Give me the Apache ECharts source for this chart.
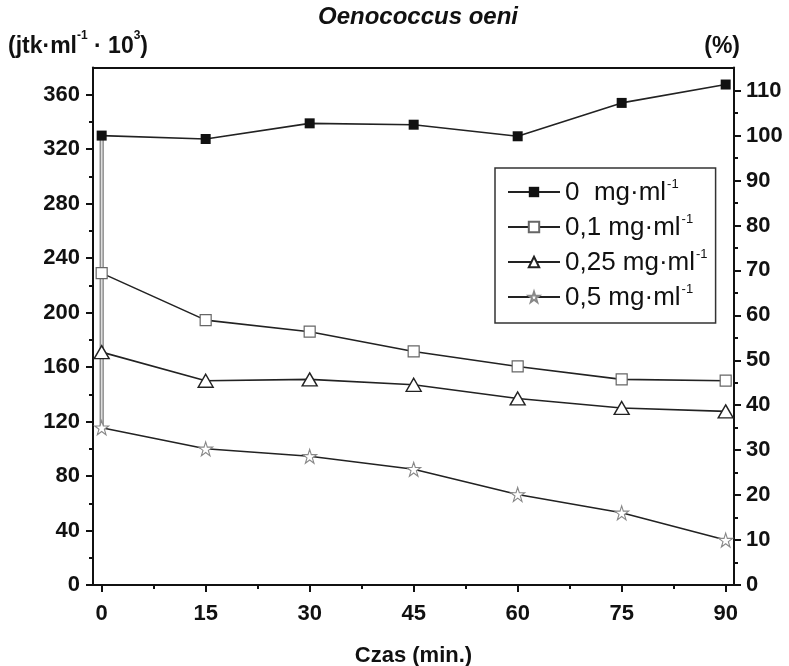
<!DOCTYPE html>
<html>
<head>
<meta charset="utf-8">
<script src="https://cdn.jsdelivr.net/npm/echarts@6/dist/echarts.min.js"></script>
<style>
  html, body { margin: 0; padding: 0; background: #fff; }
  #chart { width: 789px; height: 666px; }
</style>
</head>
<body>
<div id="chart"></div>
<script>
// czas pomiaru (min.)
const times = [0, 15, 30, 45, 60, 75, 90];
// liczba komórek (jtk·ml-1 · 10^3)
const conc0 = [330, 327.5, 339, 338, 329.5, 354, 367.5];
const conc01 = [229, 194.5, 186, 171.5, 160.5, 151, 150];
const conc025 = [171, 150, 151, 147, 137, 130, 127.5];
const conc05 = [115.5, 100, 94.5, 85, 66.5, 53, 33];
// pionowa linia przy t = 0
const connector = [[0, 330], [0, 115.5]];

const seriesNames = ["0  mg·ml", "0,1 mg·ml", "0,25 mg·ml", "0,5 mg·ml"];
const xTicks = [0, 15, 30, 45, 60, 75, 90];
const xMinorTicks = [7.5, 22.5, 37.5, 52.5, 67.5, 82.5];
const leftTicks = [0, 40, 80, 120, 160, 200, 240, 280, 320, 360];
const leftMinorTicks = [20, 60, 100, 140, 180, 220, 260, 300, 340];
const rightTicks = [0, 10, 20, 30, 40, 50, 60, 70, 80, 90, 100, 110];
const rightMinorTicks = [5, 15, 25, 35, 45, 55, 65, 75, 85, 95, 105];

const fontFamily = "Liberation Sans, Arial, sans-serif";
const axisColor = "#111";
const lineColor = "#222";
const starPath = "path://M50,2 L61,36 L97,36 L68,57 L79,92 L50,71 L21,92 L32,57 L3,36 L39,36 Z";

const chart = echarts.init(document.getElementById("chart"));

const labelStyle = {
  color: axisColor,
  fontFamily: fontFamily,
  fontSize: 22,
  fontWeight: "bold",
};

function pairs(values) {
  return times.map((t, i) => [t, values[i]]);
}

function axisBase(extra) {
  return Object.assign(
    {
      type: "value",
      splitLine: { show: false },
      axisLine: { show: true, onZero: false, lineStyle: { color: axisColor, width: 2 } },
    },
    extra
  );
}

// oś tylko z małymi kreskami (bez linii i opisów)
function minorAxis(extra, ticks) {
  return axisBase(
    Object.assign(
      {
        axisLine: { show: false, onZero: false },
        axisTick: {
          show: true,
          length: 4,
          customValues: ticks,
          lineStyle: { color: axisColor, width: 2 },
        },
        axisLabel: { show: false },
      },
      extra
    )
  );
}

const supRich = {
  t: { fontFamily: fontFamily, fontSize: 26, color: "#111", lineHeight: 28, verticalAlign: "bottom" },
  s: { fontFamily: fontFamily, fontSize: 13, color: "#111", lineHeight: 28, verticalAlign: "top", padding: [0, 0, 0, 1] },
};

const titleRich = {
  b: { fontFamily: fontFamily, fontSize: 23, fontWeight: "bold", color: "#111", lineHeight: 28, verticalAlign: "bottom" },
  s: { fontFamily: fontFamily, fontSize: 12, fontWeight: "bold", color: "#111", lineHeight: 28, verticalAlign: "top" },
};

chart.setOption({
  animation: false,
  backgroundColor: "#fff",
  title: [
    {
      text: "Oenococcus oeni",
      left: 413,
      textAlign: "center",
      top: 0,
      textStyle: {
        fontFamily: fontFamily,
        fontSize: 24,
        fontWeight: "bold",
        fontStyle: "italic",
        color: "#111",
      },
    },
    {
      text: "{b|(jtk·ml}{s|-1}{b| · 10}{s|3}{b|)}",
      left: 3,
      top: 25,
      textStyle: { rich: titleRich },
    },
    {
      text: "{b|(%)}",
      right: 44,
      top: 25,
      textStyle: { rich: titleRich },
    },
  ],
  grid: {
    left: 93,
    right: 55,
    top: 67.5,
    bottom: 81,
    containLabel: false,
    outerBoundsMode: "none",
  },
  legend: {
    orient: "vertical",
    left: 495,
    top: 168,
    padding: [10, 8, 12, 12],
    itemWidth: 52,
    itemHeight: 13,
    itemGap: 7,
    borderColor: "#333",
    borderWidth: 1.5,
    data: seriesNames,
    formatter: (name) => `{t|${name}}{s|-1}`,
    textStyle: { rich: supRich, padding: [0, 0, 0, 0] },
  },
  xAxis: [
    axisBase({
      min: -1.25,
      max: 91.2,
      position: "bottom",
      name: "Czas (min.)",
      nameLocation: "middle",
      nameGap: 60,
      nameTextStyle: labelStyle,
      axisTick: {
        show: true,
        inside: false,
        length: 7,
        customValues: xTicks,
        lineStyle: { color: axisColor, width: 2 },
      },
      axisLabel: Object.assign({ customValues: xTicks, margin: 18 }, labelStyle),
    }),
    minorAxis({ min: -1.25, max: 91.2, position: "bottom" }, xMinorTicks),
    axisBase({
      min: -1.25,
      max: 91.2,
      position: "top",
      axisTick: { show: false },
      axisLabel: { show: false },
    }),
  ],
  yAxis: [
    axisBase({
      min: 0,
      max: 380,
      position: "left",
      axisTick: {
        show: true,
        length: 7,
        customValues: leftTicks,
        lineStyle: { color: axisColor, width: 2 },
      },
      axisLabel: Object.assign({ customValues: leftTicks, margin: 13 }, labelStyle),
    }),
    minorAxis({ min: 0, max: 380, position: "left" }, leftMinorTicks),
    axisBase({
      min: 0,
      max: 380 / 3.3,
      position: "right",
      axisTick: {
        show: true,
        length: 7,
        customValues: rightTicks,
        lineStyle: { color: axisColor, width: 2 },
      },
      axisLabel: Object.assign({ customValues: rightTicks, margin: 12 }, labelStyle),
    }),
    minorAxis({ min: 0, max: 380 / 3.3, position: "right" }, rightMinorTicks),
  ],
  series: [
    {
      type: "line",
      data: connector,
      symbol: "none",
      silent: true,
      lineStyle: { color: "#666", width: 4 },
      z: 1,
    },
    {
      type: "line",
      data: connector,
      symbol: "none",
      silent: true,
      lineStyle: { color: "#ddd", width: 2 },
      z: 1,
    },
    {
      name: seriesNames[0],
      type: "line",
      data: pairs(conc0),
      symbol: "rect",
      symbolSize: 10,
      lineStyle: { color: lineColor, width: 1.6 },
      itemStyle: { color: "#111", borderColor: "#111", borderWidth: 0 },
      z: 3,
    },
    {
      name: seriesNames[1],
      type: "line",
      data: pairs(conc01),
      symbol: "rect",
      symbolSize: 11,
      lineStyle: { color: lineColor, width: 1.6 },
      itemStyle: { color: "#fff", borderColor: "#666", borderWidth: 1.2 },
      z: 3,
    },
    {
      name: seriesNames[2],
      type: "line",
      data: pairs(conc025),
      symbol: "triangle",
      symbolSize: [15, 13],
      lineStyle: { color: lineColor, width: 1.6 },
      itemStyle: { color: "#fff", borderColor: "#222", borderWidth: 1.4 },
      z: 3,
    },
    {
      name: seriesNames[3],
      type: "line",
      data: pairs(conc05),
      symbol: starPath,
      symbolSize: 14,
      lineStyle: { color: lineColor, width: 1.6 },
      itemStyle: { color: "#fff", borderColor: "#888", borderWidth: 1.1 },
      z: 3,
    },
  ],
});
</script>
</body>
</html>
